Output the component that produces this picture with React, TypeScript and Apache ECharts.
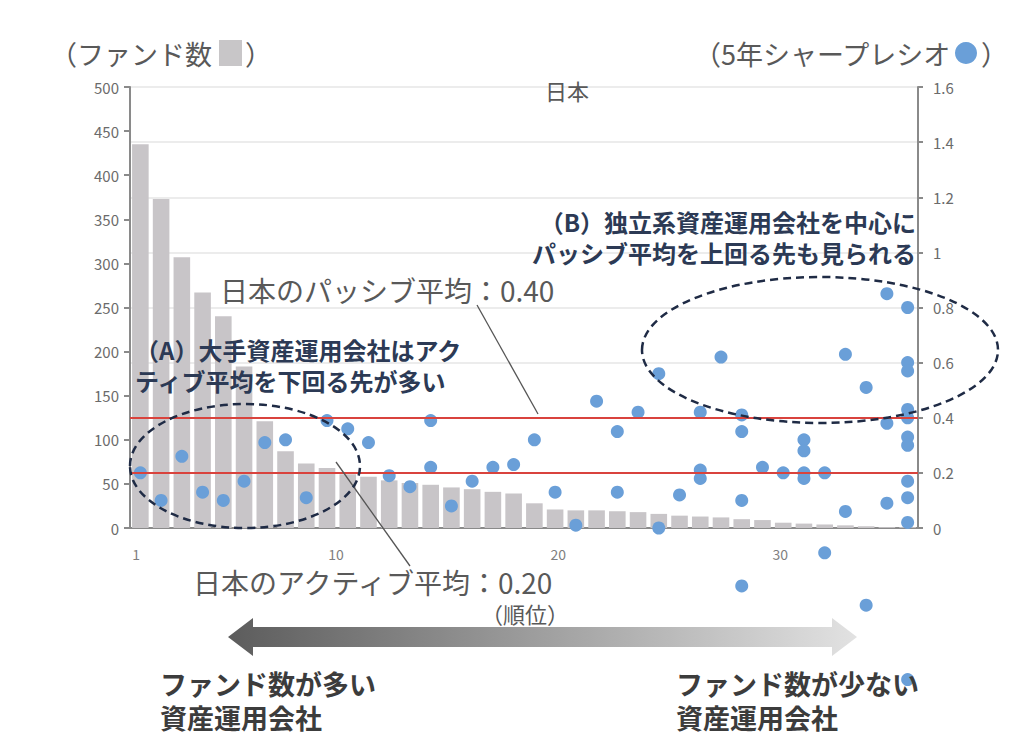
import React, { useEffect, useRef } from "react";
import * as echarts from "echarts";

// ---- data ----
const rankCategories = [
  "1", "2", "3", "4", "5", "6", "7", "8", "9", "10",
  "11", "12", "13", "14", "15", "16", "17", "18", "19", "20",
  "21", "22", "23", "24", "25", "26", "27", "28", "29", "30",
  "31", "32", "33", "34", "35", "36", "37", "38",
];

// number of funds per asset manager (left axis)
const fundCounts = [
  435, 373, 307, 267, 240, 183, 121, 87, 73, 68,
  61, 58, 54, 51, 49, 46, 44, 41, 39, 28,
  21, 20, 20, 19, 18, 16, 14, 13, 12, 10,
  9, 6, 5, 4, 3, 2, 1, 1,
];

// 5-year Sharpe ratio points (right axis): rank and value
const sharpeRank = [
  1, 2, 3, 4, 5, 6, 7, 8, 9, 10,
  11, 12, 13, 14, 15, 15, 16, 17, 18, 19,
  20, 21, 22, 23, 24, 24, 25, 26, 26, 27,
  28, 28, 28, 29, 30, 30, 30, 30, 31, 32,
  33, 33, 33, 33, 34, 34, 35, 35, 36, 36,
  37, 37, 37,
  38, 38, 38, 38, 38, 38, 38, 38, 38, 38, 38,
];
const sharpeValue = [
  0.20, 0.10, 0.26, 0.13, 0.10, 0.17, 0.31, 0.32, 0.11, 0.39,
  0.36, 0.31, 0.19, 0.15, 0.39, 0.22, 0.08, 0.17, 0.22, 0.23,
  0.32, 0.13, 0.01, 0.46, 0.35, 0.13, 0.42, 0.56, 0.00, 0.12,
  0.42, 0.21, 0.18, 0.62, 0.41, 0.35, 0.10, -0.21, 0.22, 0.20,
  0.32, 0.28, 0.20, 0.18, 0.20, -0.09, 0.63, 0.06, 0.51, -0.28,
  0.85, 0.38, 0.09,
  0.80, 0.60, 0.57, 0.43, 0.40, 0.33, 0.30, 0.17, 0.11, 0.02, -0.55,
];

const passiveAverage = 0.40;
const activeAverage = 0.20;

const rankTickLabels = [1, 10, 20, 30];

const FONT = '"Noto Sans CJK JP", "Noto Sans", sans-serif';

export default function App() {
  const ref = useRef<HTMLDivElement>(null);

  useEffect(() => {
    document.body.style.margin = "0";
    if (!ref.current) return;
    const chart = echarts.init(ref.current, null, { renderer: "svg" });

    const scatterData = sharpeRank.map((r, i) => [r - 1, sharpeValue[i]]);

    const navy = "#2c3a55";
    const grey = "#595959";
    const dark = "#3c3c3c";

    const option: any = {
      animation: false,
      backgroundColor: "#ffffff",
      textStyle: { fontFamily: FONT },
      grid: { left: 130, right: 106, top: 87, bottom: 212, containLabel: false },
      xAxis: [
        {
          type: "category",
          data: rankCategories,
          position: "bottom",
          axisLine: { show: true, lineStyle: { color: "#8a8a8a", width: 2 } },
          axisTick: { show: false },
          axisLabel: { show: false },
          splitLine: { show: false },
        },
        {
          type: "value",
          position: "bottom",
          min: 0.72,
          max: 36.2,
          axisLine: { show: false },
          axisTick: { show: false },
          splitLine: { show: false },
          axisLabel: {
            customValues: rankTickLabels,
            margin: 19,
            fontSize: 14,
            color: "#7f7f7f",
            fontFamily: FONT,
          },
        },
      ],
      yAxis: [
        {
          type: "value",
          min: 0,
          max: 500,
          interval: 50,
          position: "left",
          axisLine: { show: true, lineStyle: { color: "#8a8a8a", width: 2 } },
          axisTick: { show: true, length: 6, lineStyle: { color: "#8a8a8a", width: 2 } },
          axisLabel: { margin: 11, fontSize: 15, color: "#6b6b6b", fontFamily: FONT },
          splitLine: { show: false },
        },
        {
          type: "value",
          min: 0,
          max: 1.6,
          interval: 0.2,
          position: "right",
          axisLine: { show: true, lineStyle: { color: "#8a8a8a", width: 2 } },
          axisTick: { show: true, length: 5, lineStyle: { color: "#8a8a8a", width: 2 } },
          axisLabel: { margin: 15, fontSize: 15, color: "#6b6b6b", fontFamily: FONT },
          splitLine: { show: true, lineStyle: { color: "#e6e6e6", width: 1.5 } },
        },
      ],
      series: [
        {
          type: "bar",
          name: "ファンド数",
          xAxisIndex: 0,
          yAxisIndex: 0,
          data: fundCounts,
          barCategoryGap: "20%",
          itemStyle: { color: "#c8c5c8" },
          z: 2,
        },
        {
          type: "scatter",
          name: "5年シャープレシオ",
          xAxisIndex: 0,
          yAxisIndex: 1,
          data: scatterData,
          symbolSize: 13,
          clip: false,
          itemStyle: { color: "#6a9fd8", opacity: 1 },
          z: 4,
          markLine: {
            silent: true,
            symbol: ["none", "none"],
            label: { show: false },
            lineStyle: { color: "#d9433d", width: 2, type: "solid" },
            data: [{ yAxis: passiveAverage }, { yAxis: activeAverage }],
          },
        },
      ],
      graphic: [
        // top labels
        {
          type: "text", x: 50, y: 53, z: 10,
          style: { text: "（ファンド数", fill: grey, font: `27px ${FONT}`, textAlign: "left", textVerticalAlign: "middle" },
        },
        { type: "rect", z: 10, shape: { x: 219, y: 40, width: 23, height: 26 }, style: { fill: "#c8c6c8" } },
        {
          type: "text", x: 245, y: 53, z: 10,
          style: { text: "）", fill: grey, font: `27px ${FONT}`, textAlign: "left", textVerticalAlign: "middle" },
        },
        {
          type: "text", x: 694, y: 53, z: 10,
          style: { text: "（5年シャープレシオ", fill: grey, font: `27px ${FONT}`, textAlign: "left", textVerticalAlign: "middle" },
        },
        { type: "circle", z: 10, shape: { cx: 966, cy: 53, r: 11 }, style: { fill: "#6a9fd8" } },
        {
          type: "text", x: 981, y: 53, z: 10,
          style: { text: "）", fill: grey, font: `27px ${FONT}`, textAlign: "left", textVerticalAlign: "middle" },
        },
        {
          type: "text", x: 567, y: 90, z: 10,
          style: { text: "日本", fill: grey, font: `22px ${FONT}`, textAlign: "center", textVerticalAlign: "middle" },
        },
        // average labels and leader lines
        {
          type: "text", x: 220, y: 290, z: 10,
          style: { text: "日本のパッシブ平均：0.40", fill: grey, font: `28px ${FONT}`, textAlign: "left", textVerticalAlign: "middle" },
        },
        { type: "line", z: 10, shape: { x1: 477, y1: 305, x2: 538, y2: 414 }, style: { stroke: "#555555", lineWidth: 1.3 } },
        {
          type: "text", x: 193, y: 582, z: 10,
          style: { text: "日本のアクティブ平均：0.20", fill: grey, font: `28px ${FONT}`, textAlign: "left", textVerticalAlign: "middle" },
        },
        { type: "line", z: 10, shape: { x1: 336, y1: 462, x2: 410, y2: 566 }, style: { stroke: "#555555", lineWidth: 1.3 } },
        {
          type: "text", x: 525, y: 613, z: 12,
          style: { text: "（順位）", fill: grey, font: `22px ${FONT}`, textAlign: "center", textVerticalAlign: "middle" },
        },
        // annotations
        {
          type: "text", x: 135, y: 334, z: 10,
          style: {
            text: "（A）大手資産運用会社はアク\nティブ平均を下回る先が多い",
            fill: navy, font: `bold 24px ${FONT}`, lineHeight: 31,
            textAlign: "left", textVerticalAlign: "top",
          },
        },
        {
          type: "text", x: 916, y: 206, z: 10,
          style: {
            text: "（B）独立系資産運用会社を中心に\nパッシブ平均を上回る先も見られる",
            fill: navy, font: `bold 24px ${FONT}`, lineHeight: 31,
            textAlign: "right", textVerticalAlign: "top",
          },
        },
        {
          type: "ellipse", z: 11,
          shape: { cx: 245, cy: 466, rx: 115, ry: 62 },
          style: { fill: "none", stroke: "#1f2b45", lineWidth: 2.5, lineDash: [8, 5] },
        },
        {
          type: "ellipse", z: 11,
          shape: { cx: 820, cy: 350, rx: 178, ry: 73 },
          style: { fill: "none", stroke: "#1f2b45", lineWidth: 2.5, lineDash: [8, 5] },
        },
        // gradient double arrow
        {
          type: "polygon", z: 10,
          shape: {
            points: [
              [228, 637], [253, 618], [253, 627], [832, 627], [832, 618],
              [857, 637], [832, 656], [832, 647], [253, 647], [253, 656],
            ],
          },
          style: {
            fill: new echarts.graphic.LinearGradient(0, 0, 1, 0, [
              { offset: 0, color: "#5c5c5c" },
              { offset: 1, color: "#e2e2e2" },
            ]),
          },
        },
        // bottom captions
        {
          type: "text", x: 160, y: 666, z: 10,
          style: {
            text: "ファンド数が多い\n資産運用会社",
            fill: dark, font: `bold 27px ${FONT}`, lineHeight: 34,
            textAlign: "left", textVerticalAlign: "top",
          },
        },
        {
          type: "text", x: 676, y: 666, z: 10,
          style: {
            text: "ファンド数が少ない\n資産運用会社",
            fill: dark, font: `bold 27px ${FONT}`, lineHeight: 34,
            textAlign: "left", textVerticalAlign: "top",
          },
        },
      ],
    };

    chart.setOption(option);
    return () => chart.dispose();
  }, []);

  return <div ref={ref} style={{ width: 1024, height: 740 }} />;
}
